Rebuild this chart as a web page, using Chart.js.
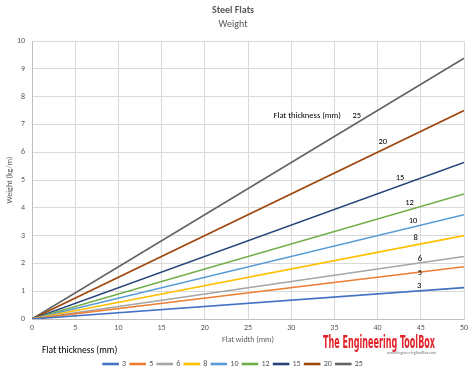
<!DOCTYPE html>
<html>
<head>
<meta charset="utf-8">
<script src="https://cdn.jsdelivr.net/npm/chart.js@4"></script>
<style>
  html, body { margin: 0; padding: 0; background: #fff; }
  #wrap { width: 474px; height: 373px; }
</style>
</head>
<body>
<div id="wrap"><canvas id="chart" width="474" height="373"></canvas></div>
<script>
// flat thickness (mm) and weight (kg/m) read at 0 and 50 mm flat width
const thicknesses = ['3', '5', '6', '8', '10', '12', '15', '20', '25'];
const widths = [0, 50];
const weightAt0 = [0, 0, 0, 0, 0, 0, 0, 0, 0];
const weightAt50 = [1.13, 1.88, 2.25, 3.0, 3.75, 4.5, 5.63, 7.5, 9.38];
const xTicks = [0, 5, 10, 15, 20, 25, 30, 35, 40, 45, 50];
const yTicks = [0, 1, 2, 3, 4, 5, 6, 7, 8, 9, 10];

const colors = ['#4472C4', '#ED7D31', '#A5A5A5', '#FFC000', '#5B9BD5',
                '#70AD47', '#264478', '#9E480E', '#636363'];

// where the in-plot labels sit (data units)
const labelSpots = [[44.8, 1.2], [44.9, 1.65], [44.9, 2.16], [44.4, 2.91], [44.1, 3.53],
                    [43.7, 4.17], [42.6, 5.07], [40.6, 6.37], [37.6, 7.3]];

const FONT = "Calibri, Carlito, 'Open Sans', 'Noto Sans', sans-serif";
const grey = '#595959';
const LEGEND_SHIFT = 11;

const datasets = thicknesses.map((t, i) => ({
  label: t,
  data: [{ x: widths[0], y: weightAt0[i] }, { x: widths[1], y: weightAt50[i] }],
  borderColor: colors[i],
  backgroundColor: colors[i],
  borderWidth: 1.6,
  pointRadius: 0,
  fill: false,
}));

// fixed legend height so the plot keeps its place, swatches pushed lower
const legendFit = {
  id: 'legendFit',
  beforeInit(chart) {
    const lg = chart.legend;
    const orig = lg.fit;
    lg.fit = function () { orig.call(this); this.height = 28; };
  },
  afterLayout(chart) {
    chart.legend.top += LEGEND_SHIFT;
    chart.legend.bottom += LEGEND_SHIFT;
  }
};

const lineLabels = {
  id: 'lineLabels',
  afterDatasetsDraw(chart) {
    const { ctx, scales: { x, y } } = chart;
    ctx.save();
    ctx.font = '8.5px ' + FONT;
    ctx.fillStyle = '#000';
    ctx.textAlign = 'center';
    ctx.textBaseline = 'middle';
    labelSpots.forEach(([lx, ly], i) => {
      ctx.fillText(thicknesses[i], x.getPixelForValue(lx), y.getPixelForValue(ly));
    });
    ctx.textAlign = 'right';
    ctx.fillText('Flat thickness (mm)', x.getPixelForValue(labelSpots[8][0]) - 16,
                 y.getPixelForValue(labelSpots[8][1]));
    ctx.restore();
  },
  afterDraw(chart) {
    const { ctx, legend } = chart;
    ctx.save();
    // legend title, left of the swatches
    ctx.fillStyle = '#000';
    ctx.font = '9.5px ' + FONT;
    ctx.textAlign = 'left';
    ctx.textBaseline = 'middle';
    ctx.fillText('Flat thickness (mm)', 42, legend.top - LEGEND_SHIFT + 6);

    // logo
    ctx.fillStyle = '#E2222A';
    ctx.textBaseline = 'alphabetic';
    ctx.font = "bold 17px 'Liberation Sans Narrow', 'DejaVu Sans Condensed', sans-serif";
    const txt = 'The Engineering ToolBox';
    const w = ctx.measureText(txt).width;
    ctx.save();
    ctx.translate(323, 348);
    ctx.scale(112 / w, 1);
    ctx.fillText(txt, 0, 0);
    ctx.restore();
    ctx.fillStyle = '#777';
    ctx.font = '4px ' + FONT;
    ctx.fillText('www.EngineeringToolBox.com', 387, 354);
    ctx.restore();
  }
};

new Chart(document.getElementById('chart'), {
  type: 'line',
  data: { datasets },
  options: {
    responsive: false,
    animation: false,
    layout: { padding: { left: 2, right: 10, top: 2, bottom: 0 } },
    plugins: {
      title: {
        display: true, text: 'Steel Flats', color: grey,
        font: { family: FONT, size: 10, weight: 'bold' }, padding: { top: 2, bottom: 2 }
      },
      subtitle: {
        display: true, text: 'Weight', color: grey,
        font: { family: FONT, size: 10 }, padding: { top: 0, bottom: 11 }
      },
      legend: {
        position: 'bottom',
        align: 'center',
        labels: {
          color: grey, font: { family: FONT, size: 8 },
          boxWidth: 15, boxHeight: 1, padding: 4
        }
      },
      tooltip: { enabled: false }
    },
    scales: {
      x: {
        type: 'linear', min: 0, max: 50,
        afterBuildTicks: s => { s.ticks = xTicks.map(v => ({ value: v })); },
        afterFit: s => { s.height = 26; },
        ticks: { color: grey, font: { family: FONT, size: 8 }, padding: 4 },
        grid: { color: '#D9D9D9', lineWidth: 1, drawTicks: false },
        border: { color: '#BFBFBF' },
        title: { display: true, text: 'Flat width (mm)', color: grey,
                 font: { family: FONT, size: 8 }, padding: { top: 2, bottom: 0 } }
      },
      y: {
        type: 'linear', min: 0, max: 10,
        afterBuildTicks: s => { s.ticks = yTicks.map(v => ({ value: v })); },
        afterFit: s => { s.width = 30; },
        ticks: { color: grey, font: { family: FONT, size: 8 }, padding: 7 },
        grid: { color: '#D9D9D9', lineWidth: 1, drawTicks: false },
        border: { color: '#BFBFBF' },
        title: { display: true, text: 'Weight (kg/m)', color: grey,
                 font: { family: FONT, size: 8 }, padding: { top: 3, bottom: 0 } }
      }
    }
  },
  plugins: [legendFit, lineLabels]
});
</script>
</body>
</html>
